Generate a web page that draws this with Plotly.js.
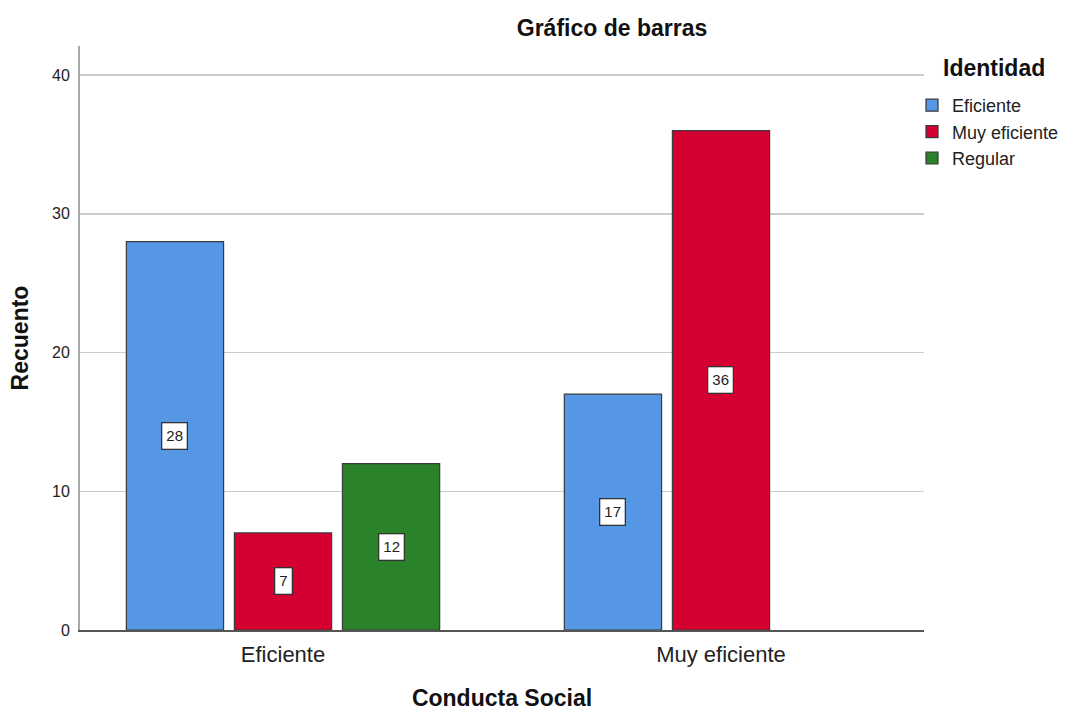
<!DOCTYPE html>
<html>
<head>
<meta charset="utf-8">
<script src="https://cdn.plot.ly/plotly-3.0.1.min.js"></script>
<style>body{margin:0;padding:0;background:#fff}#chart{width:1067px;height:711px}</style>
</head>
<body>
<div id="chart"></div>
<script>
const categories = ["Eficiente", "Muy eficiente"];
const seriesNames = ["Eficiente", "Muy eficiente", "Regular"];
const valuesEficiente = [28, 17];
const valuesMuyEficiente = [7, 36];
const valuesRegular = [12, null];
const colors = ["#5596e5", "#d50032", "#2a832a"];
const yTicks = [0, 10, 20, 30, 40];

const seriesValues = [valuesEficiente, valuesMuyEficiente, valuesRegular];
const bargap = 0.26;
const slot = (1 - bargap) / seriesNames.length;
const FONT = "Liberation Sans, Arial, sans-serif";

const traces = seriesNames.map((name, i) => ({
  type: "bar",
  name: name,
  x: categories,
  y: seriesValues[i],
  marker: {color: colors[i], line: {color: "#3a3a3a", width: 1.2}},
  hoverinfo: "none"
}));

const annotations = [];
seriesValues.forEach((vals, i) => {
  vals.forEach((v, j) => {
    if (v === null) return;
    annotations.push({
      x: j + (i - (seriesNames.length - 1) / 2) * slot,
      y: v / 2,
      xref: "x", yref: "y",
      text: String(v),
      showarrow: false,
      font: {family: FONT, size: 15, color: "#222"},
      bgcolor: "#ffffff",
      bordercolor: "#333",
      borderwidth: 1.3,
      borderpad: 4
    });
  });
});
annotations.push({
  text: "<b>Identidad</b>",
  xref: "paper", yref: "paper",
  x: 1.0, y: 1.0,
  xanchor: "left", yanchor: "middle",
  xshift: 17, yshift: -22,
  showarrow: false,
  font: {family: FONT, size: 23, color: "#111"}
});

const layout = {
  width: 1067, height: 711,
  margin: {l: 80, r: 143, t: 46, b: 81, autoexpand: false},
  paper_bgcolor: "#fff", plot_bgcolor: "#fff",
  font: {family: FONT, color: "#222"},
  title: {
    text: "<b>Gráfico de barras</b>",
    font: {size: 23, color: "#111"},
    x: 0.5736, xanchor: "center", y: 0.961, yanchor: "middle"
  },
  barmode: "group",
  bargap: bargap,
  bargroupgap: 0.1,
  xaxis: {
    type: "category",
    range: [-0.4635, 1.4635],
    showline: true, linecolor: "#555", linewidth: 1.5,
    ticks: "", showgrid: false,
    tickfont: {size: 22, color: "#222"},
    ticklabelstandoff: 4,
    title: {text: "<b>Conducta Social</b>", font: {size: 23, color: "#111"}, standoff: 27}
  },
  yaxis: {
    range: [0, 42.1],
    tickvals: yTicks,
    showline: true, linecolor: "#a8a8a8", linewidth: 2,
    ticks: "",
    showgrid: true, gridcolor: "#cccccc", gridwidth: 1.5,
    zeroline: false,
    tickfont: {size: 16, color: "#222"},
    ticklabelstandoff: 5,
    title: {text: "<b>Recuento</b>", font: {size: 23, color: "#111"}, standoff: 17}
  },
  showlegend: true,
  legend: {
    xref: "container", yref: "container",
    x: 912 / 1067, xanchor: "left",
    y: 1 - 87 / 711, yanchor: "top",
    font: {size: 18, color: "#222"},
    itemwidth: 30,
    tracegroupgap: 0,
    bgcolor: "rgba(0,0,0,0)"
  },
  annotations: annotations
};

Plotly.newPlot("chart", traces, layout, {displayModeBar: false, staticPlot: true});
</script>
</body>
</html>
